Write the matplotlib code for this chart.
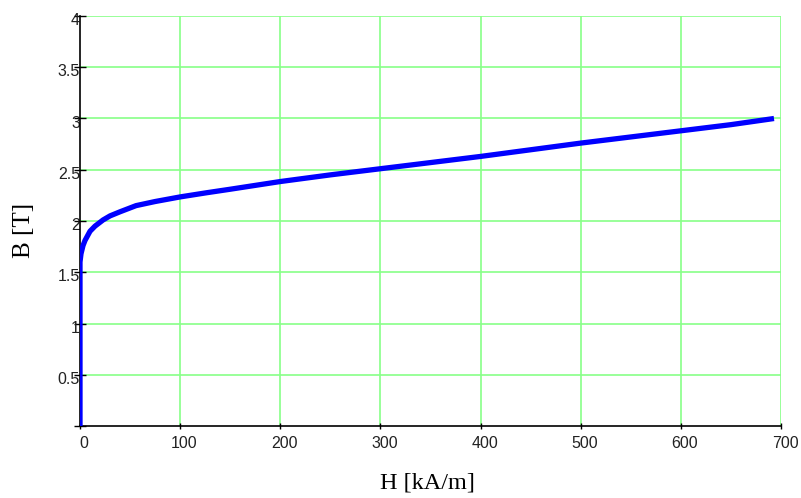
import matplotlib
matplotlib.use("Agg")
import matplotlib.pyplot as plt
import matplotlib.transforms as mtransforms

# B-H curve (H in kA/m, B in T)
H = [0, 0, 1, 3, 5, 10, 15, 23, 30, 40, 56, 75, 100, 126, 150, 200, 250,
     300, 350, 400, 450, 500, 550, 600, 650, 693]
B = [0, 1.6, 1.68, 1.76, 1.81, 1.90, 1.95, 2.01, 2.05, 2.09, 2.15, 2.19,
     2.235, 2.275, 2.31, 2.385, 2.45, 2.51, 2.57, 2.63, 2.695, 2.76, 2.82,
     2.88, 2.94, 3.00]

x_ticks = [0, 100, 200, 300, 400, 500, 600, 700]
y_ticks = [0, 0.5, 1, 1.5, 2, 2.5, 3, 3.5, 4]
y_labels = ["", "0.5", "1", "1.5", "2", "2.5", "3", "3.5", "4"]

fig = plt.figure(figsize=(8.01, 4.98), dpi=100)
ax = fig.add_axes([80 / 801, (498 - 426) / 498, 701 / 801, 410 / 498])

grid_col = "#88ff88"
for xv in x_ticks[1:]:
    ax.axvline(xv, color=grid_col, lw=1.2, zorder=1)
for yv in y_ticks[1:]:
    ax.axhline(yv, color=grid_col, lw=1.2, zorder=1)

ax.plot(H, B, color="#0000ff", lw=3.8, solid_capstyle="butt", zorder=3)

ax.set_xlim(0, 700)
ax.set_ylim(0, 4)
ax.set_xticks(x_ticks)
ax.set_yticks(y_ticks)
ax.set_yticklabels(y_labels)

for s in ["top", "right"]:
    ax.spines[s].set_visible(False)
for s in ["left", "bottom"]:
    ax.spines[s].set_color("black")
    ax.spines[s].set_linewidth(1.2)
    ax.spines[s].set_zorder(2)

ax.tick_params(axis="y", direction="inout", length=8, width=1, pad=-4,
               labelsize=11.5, colors="black")
ax.tick_params(axis="x", direction="inout", length=5, width=1, pad=5,
               labelsize=11.5, colors="black")
for lab in ax.get_xticklabels() + ax.get_yticklabels():
    lab.set_fontfamily("Liberation Sans")
    lab.set_color("#222222")

# Mathcad puts labels a little to the right / below the ticks
dx = mtransforms.ScaledTranslation(4 / 100, 0, fig.dpi_scale_trans)
for lab in ax.get_xticklabels():
    lab.set_transform(lab.get_transform() + dx)
dy = mtransforms.ScaledTranslation(0, -3 / 100, fig.dpi_scale_trans)
for lab in ax.get_yticklabels():
    lab.set_transform(lab.get_transform() + dy)

ax.set_xlabel("H [kA/m]", fontfamily="Liberation Serif", fontsize=17.5,
              va="center")
ax.set_ylabel("B [T]", fontfamily="Liberation Serif", fontsize=18,
              va="center")
ax.xaxis.set_label_coords(0.495, -0.139)
ax.yaxis.set_label_coords(-0.080, 0.478)

fig.savefig("out.png", dpi=100, facecolor="white")
